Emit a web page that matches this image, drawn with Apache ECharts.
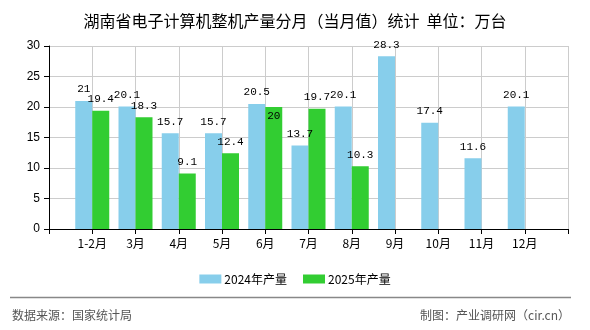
<!DOCTYPE html>
<html>
<head>
<meta charset="utf-8">
<script src="https://cdn.jsdelivr.net/npm/echarts@6/dist/echarts.min.js"></script>
<style>html,body{margin:0;padding:0;background:#fff;}#c{width:590px;height:330px;}</style>
</head>
<body>
<div id="c"></div>
<script>
var title = '湖南省电子计算机整机产量分月（当月值）统计  单位：万台';
var categories = ['1-2月','3月','4月','5月','6月','7月','8月','9月','10月','11月','12月'];
var series2024 = [21, 20.1, 15.7, 15.7, 20.5, 13.7, 20.1, 28.3, 17.4, 11.6, 20.1];
var series2025 = [19.4, 18.3, 9.1, 12.4, 20, 19.7, 10.3];
var seriesNames = ['2024年产量', '2025年产量'];
var yTicks = [0, 5, 10, 15, 20, 25, 30];
var source = '数据来源：国家统计局';
var maker = '制图：产业调研网（cir.cn）';

var FONT = '"Noto Sans CJK SC", "DejaVu Sans", sans-serif';
var MONO = '"Liberation Mono", "DejaVu Sans Mono", monospace';
var SANS = '"Liberation Sans", Arial, sans-serif';

// pad categories so that bars sit on tick positions 1..n of a 0..n+1 axis
var xCats = [''].concat(categories).concat(['']);
function pad(arr) {
  var out = ['-'];
  for (var i = 0; i < categories.length; i++) out.push(i < arr.length ? arr[i] : '-');
  out.push('-');
  return out;
}
var d2024 = pad(series2024);
var d2025 = pad(series2025).map(function (v, i) {
  // label of 6月 2025 is drawn inside the bar top in the reference
  if (i === 5 && v !== '-') return { value: v, label: { position: 'insideTop', distance: 4 } };
  return v;
});

var chart = echarts.init(document.getElementById('c'), null, { renderer: 'canvas' });
chart.setOption({
  animation: false,
  backgroundColor: '#fff',
  title: {
    text: title, left: 'center', top: 8,
    textStyle: { fontFamily: FONT, fontSize: 16, fontWeight: 'normal', color: '#000' }
  },
  legend: {
    data: seriesNames, top: 268, left: 'center',
    itemWidth: 22, itemHeight: 9, itemGap: 16,
    icon: 'rect',
    textStyle: { fontFamily: FONT, fontSize: 12, color: '#000', padding: [0, 0, 0, -2] }
  },
  grid: { left: 49, right: 22, top: 46, bottom: 101, containLabel: false },
  xAxis: {
    type: 'category', data: xCats, boundaryGap: false,
    axisLine: { lineStyle: { color: '#000', width: 1 } },
    axisTick: { show: true, interval: 0, length: 5, lineStyle: { color: '#000' } },
    axisLabel: { interval: 0, margin: 8, fontFamily: FONT, fontSize: 12, color: '#000' },
    splitLine: { show: true, interval: 0, lineStyle: { color: '#cccccc', width: 1 } }
  },
  yAxis: {
    type: 'value', min: yTicks[0], max: yTicks[yTicks.length - 1], interval: 5,
    axisLine: { show: true, lineStyle: { color: '#000', width: 1 } },
    axisTick: { show: true, length: 5, lineStyle: { color: '#000' } },
    axisLabel: { margin: 9, fontFamily: SANS, fontSize: 12, color: '#000' },
    splitLine: { show: true, lineStyle: { color: '#cccccc', width: 1 } }
  },
  series: [
    {
      name: seriesNames[0], type: 'bar', data: d2024, barWidth: 17, barGap: 0,
      itemStyle: { color: '#87CEEB' },
      label: { show: true, position: 'top', distance: 6, fontFamily: MONO, fontSize: 11, color: '#000' }
    },
    {
      name: seriesNames[1], type: 'bar', data: d2025, barWidth: 17, barGap: 0,
      itemStyle: { color: '#32CD32' },
      label: { show: true, position: 'top', distance: 6, fontFamily: MONO, fontSize: 11, color: '#000' }
    }
  ],
  graphic: [
    { type: 'line', shape: { x1: 10, y1: 297.5, x2: 571, y2: 297.5 }, style: { stroke: '#888', lineWidth: 1.5 } },
    { type: 'text', left: 12, top: 309, style: { text: source, fontFamily: FONT, fontSize: 12, fill: '#555' } },
    { type: 'text', right: 20, top: 309, style: { text: maker, fontFamily: FONT, fontSize: 12, fill: '#555' } }
  ]
});
</script>
</body>
</html>
